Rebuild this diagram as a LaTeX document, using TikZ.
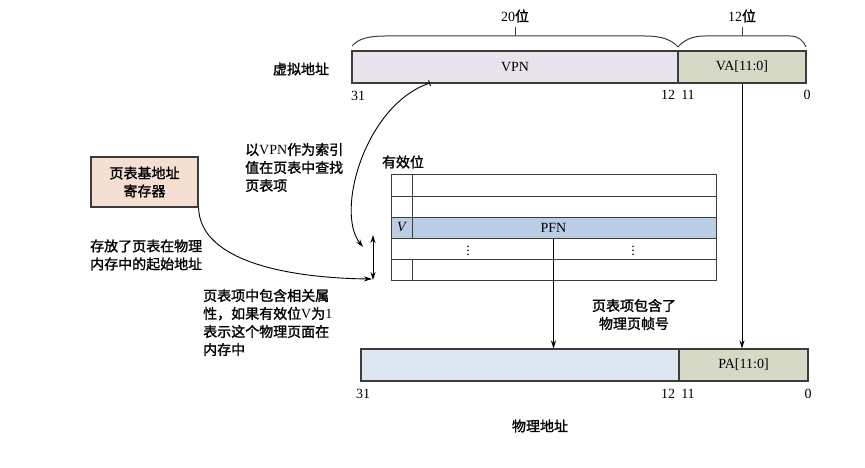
\documentclass[tikz,border=0pt]{standalone}
\usepackage{fontspec}
\setmainfont{Liberation Serif}
\newfontfamily\cjk[FakeBold=1.5]{Noto Sans CJK SC}
\usetikzlibrary{arrows.meta}
\definecolor{vpnfill}{HTML}{E8E3EC}
\definecolor{vafill}{HTML}{D6D9C6}
\definecolor{pfnfill}{HTML}{BACDE5}
\definecolor{physfill}{HTML}{DCE7F1}
\definecolor{regfill}{HTML}{F4DFD2}
\definecolor{linec}{HTML}{3C3C3C}
\begin{document}
\begin{tikzpicture}[x=1pt,y=-1pt,
  every node/.style={inner sep=0pt,font=\fontsize{14}{18}\selectfont},
  fieldbox/.style={draw=linec,line width=1.1pt,minimum height=32pt,inner sep=0pt},
  rowbox/.style={draw=linec,line width=1pt,minimum width=325pt,minimum height=21pt,inner sep=0pt},
  arr/.style={line width=0.9pt,-{Stealth[length=8pt,width=5pt]}},
  conn/.style={line width=0.9pt},
  bracec/.style={draw=linec,line width=1pt}]
\useasboundingbox (0,0) rectangle (865,468);

% virtual address
\node (vlabel) at (301,69) {\cjk 虚拟地址};
\node[fieldbox,fill=vpnfill,minimum width=326pt] (vpn) at (515,67) {VPN};
\node[fieldbox,fill=vafill,minimum width=128pt] (va) at (742,67) {VA[11:0]};
\node (v31) at (358,96) {31};
\node (v12) at (668,95) {12};
\node (v11) at (688,95) {11};
\node (v0) at (807,95) {0};

% braces
\draw[bracec] (352,46) .. controls (358,39) and (368,36) .. (385,36) -- (645,36)
  .. controls (662,36) and (672,40) .. (678,47)
  .. controls (684,40) and (692,36) .. (705,36) -- (790,36)
  .. controls (798,36) and (803,40) .. (806,47);
\draw[bracec] (515,36) -- (515,27);
\draw[bracec] (742,36) -- (742,27);
\node (b20) at (515,16) {20{\cjk 位}};
\node (b12) at (742,16) {12{\cjk 位}};

% page table
\node (validlbl) at (403,162) {\cjk 有效位};
\node[rowbox] (r1) at (553.5,185.5) {};
\node[rowbox] (r2) at (553.5,206.5) {};
\node[rowbox,fill=pfnfill] (r3) at (553.5,227.5) {PFN};
\node[rowbox] (r4) at (553.5,248.5) {};
\node[rowbox] (r5) at (553.5,269.5) {};
\draw[draw=linec,line width=1pt] ([xshift=22pt]r1.north west) -- ([xshift=22pt]r3.south west);
\draw[draw=linec,line width=1pt] ([xshift=22pt]r5.north west) -- ([xshift=22pt]r5.south west);
\node (vbit) at (402,227.5) {\textit{V}};
\node (d1) at (468,248) {$\vdots$};
\node (d2) at (633,248) {$\vdots$};

% physical address
\node[fieldbox,fill=physfill,minimum width=318pt] (phys) at (520,365) {};
\node[fieldbox,fill=vafill,minimum width=129pt] (pa) at (743.5,365) {PA[11:0]};
\node (p31) at (363,394) {31};
\node (p12) at (668,394) {12};
\node (p11) at (688,394) {11};
\node (p0) at (808,394) {0};
\node (plabel) at (540,426) {\cjk 物理地址};

% register
\node[draw=linec,line width=1.1pt,fill=regfill,minimum width=107pt,minimum height=50pt,align=center] (reg) at (144.5,182) {\cjk 页表基地址\\\cjk 寄存器};

% texts
\node[anchor=west,align=left] (t1) at (245,167.5) {{\cjk 以}VPN{\cjk 作为索引}\\{\cjk 值在页表中查找}\\{\cjk 页表项}};
\node[anchor=west,align=left] (t2) at (90,255) {\cjk 存放了页表在物理\\\cjk 内存中的起始地址};
\node[anchor=west,align=left] (t3) at (203,322.5) {{\cjk 页表项中包含相关属}\\{\cjk 性，如果有效位}V{\cjk 为}1\\{\cjk 表示这个物理页面在}\\{\cjk 内存中}};
\node[align=center] (t4) at (634,314.5) {\cjk 页表项包含了\\\cjk 物理页帧号};

% connectors
\coordinate (vpnhit) at (430,83);
\coordinate (idxend) at (363,247);
\draw[conn,{Bar[width=6pt,line width=0.9pt]}-{Stealth[length=8pt,width=5pt]}] (vpnhit) .. controls (365,105) and (335,212) .. (idxend);
\coordinate (baseend) at (372,279);
\draw[arr] (reg.south east) .. controls (200,262) and (290,278) .. (baseend);
\coordinate (dtop) at (373,235);
\coordinate (dbot) at (373,280);
\draw[conn,{Stealth[length=8pt,width=5pt]}-{Stealth[length=8pt,width=5pt]}] (dtop) -- (dbot);
\draw[arr] (r3.south) -- (r3.south |- phys.north);
\draw[arr] (va.south) -- (va.south |- pa.north);
\end{tikzpicture}
\end{document}
